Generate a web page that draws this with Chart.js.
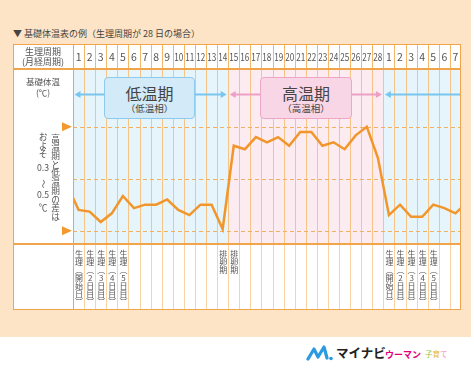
<!DOCTYPE html>
<html>
<head>
<meta charset="utf-8">
<script src="https://cdn.jsdelivr.net/npm/chart.js@4.4.1/dist/chart.umd.min.js"></script>
<style>
  body { margin: 0; background: #fff; font-family: "Noto Sans CJK JP", "Noto Sans", sans-serif; color: #4a4a4a; }
  #page { position: relative; width: 474px; height: 379px; overflow: hidden; }
  #peach { position: absolute; left: 0; top: 0; width: 471px; height: 337px; background: #fde4c6; }
  .abs { position: absolute; }
  #tableBg { position: absolute; left: 13px; top: 44px; width: 448px; height: 266px; background: #fff; }
  #chartBox { position: absolute; left: 13px; top: 69px; width: 448px; height: 175px; }
  #frame { position: absolute; left: 13px; top: 44px; width: 448px; height: 266px; box-sizing: border-box; border: 1.5px solid #f2a44b; }
  .hline { position: absolute; left: 13px; width: 448px; height: 1.5px; background: #f2a44b; }
  .vline { position: absolute; width: 1px; }
  .num { position: absolute; top: 44px; height: 25px; line-height: 25px; text-align: center; font-size: 10.5px; color: #555; }
  .num span { display: inline-block; }
  .note { position: absolute; top: 250px; width: 10px; font-size: 8px; line-height: 10px; writing-mode: vertical-rl; text-orientation: upright; color: #555; }
  .lbl { position: absolute; text-align: center; color: #555; }
  .phase { position: absolute; top: 77px; height: 42px; box-sizing: border-box; border-radius: 4px; text-align: center; color: #444; }
  .phase b { display: block; font-weight: normal; font-size: 16px; line-height: 18px; margin-top: 6px; }
  .phase i { display: block; font-style: normal; font-size: 9.5px; line-height: 12px; }
</style>
</head>
<body>
<div id="page">
  <div id="peach"></div>
  <div class="lbl" style="left:13px;top:27px;font-size:9px;line-height:13px;text-align:left;color:#444">▼ 基礎体温表の例（生理周期が 28 日の場合）</div>
  <div id="tableBg"></div>
  <div id="chartBox"><canvas id="bbtChart"></canvas></div>
  <div id="grid"></div>
  <div id="frame"></div>
  <div class="hline" style="top:68px"></div>
  <div class="hline" style="top:243px"></div>

  <div class="lbl" style="left:13px;width:60px;top:47px;font-size:9px;line-height:10px">生理周期<br>(月経周期)</div>
  <div class="lbl" style="left:13px;width:60px;top:76px;font-size:8.5px;line-height:11px">基礎体温<br>(℃)</div>
  <div class="lbl" style="left:50px;top:134px;width:11px;font-size:8.7px;line-height:11px;writing-mode:vertical-rl">高温期と低温期の差は</div>
  <div class="lbl" style="left:33px;width:20px;top:133px;font-size:8.7px;line-height:8.6px">お<br>よ<br>そ</div>
  <div class="lbl" style="left:33px;width:20px;top:163px;font-size:8.7px;line-height:10px">0.3</div>
  <div class="lbl" style="left:33px;width:20px;top:179px;font-size:8.7px;line-height:10px"><span style="display:inline-block;transform:rotate(90deg)">～</span></div>
  <div class="lbl" style="left:33px;width:20px;top:190px;font-size:8.7px;line-height:10px">0.5</div>
  <div class="lbl" style="left:33px;width:20px;top:203px;font-size:8.7px;line-height:10px">℃</div>

  <div class="phase" style="left:104px;width:91px;background:#d3ebf8;border:1.5px solid #8ccbec"><b>低温期</b><i>（低温相）</i></div>
  <div class="phase" style="left:260px;width:92px;background:#f9d6e6;border:1.5px solid #eca6c8"><b>高温期</b><i>（高温相）</i></div>

  <svg class="abs" style="left:306px;top:344px" width="28" height="18" viewBox="0 0 28 18">
    <path d="M2 15 L8 5 L12 13 L18 3 L21 14" fill="none" stroke="#2b9ae0" stroke-width="3.2" stroke-linejoin="round" stroke-linecap="round"/>
    <circle cx="25" cy="14.5" r="1.8" fill="#2b9ae0"/>
  </svg>
  <div class="lbl" style="left:336px;top:345px;font-size:12.5px;line-height:16px;font-weight:bold;color:#222;text-align:left">マイナビ</div>
  <div class="lbl" style="left:385px;top:348px;font-size:9px;line-height:13px;font-weight:bold;color:#e2007a;text-align:left">ウーマン</div>
  <div class="lbl" style="left:425px;top:348px;font-size:7.5px;line-height:12px;text-align:left"><span style="color:#8cc43f">子</span><span style="color:#e8b52c">育</span><span style="color:#ef86b3">て</span></div>
</div>

<script>
// days across the sheet: one 28-day cycle plus first week of the next
const days = ['1','2','3','4','5','6','7','8','9','10','11','12','13','14','15','16','17','18','19','20','21','22','23','24','25','26','27','28','1','2','3','4','5','6','7'];
// basal temperature (°C) per day
const temps = [36.32, 36.31, 36.25, 36.30, 36.40, 36.33, 36.35, 36.35, 36.38, 36.32, 36.29, 36.35, 36.35, 36.21,
               36.69, 36.67, 36.74, 36.71, 36.74, 36.69, 36.77, 36.77, 36.69, 36.71, 36.67, 36.75, 36.80, 36.62,
               36.29, 36.35, 36.28, 36.28, 36.35, 36.33, 36.30];
const tempBefore = 36.39;   // line comes in from the previous day
const tempAfter = 36.33;    // and leaves towards the next one
const guideTemps = [36.2, 36.5, 36.8];
const markerTemps = [36.8, 36.2];
// phases: first column, end column, colours
const phaseFrom = [0, 14, 28];
const phaseTo = [14, 28, 35];
const phaseColors = ['#e6f4fc', '#fdebf2', '#e6f4fc'];
const arrowColors = ['#78c6ee', '#eda0c6', '#78c6ee'];
const notes = ['生理（開始日）','生理（2日目）','生理（3日目）','生理（4日目）','生理（5日目）','','','','','','','','','排卵期',
               '排卵期','','','','','','','','','','','','','',
               '生理（開始日）','生理（2日目）','生理（3日目）','生理（4日目）','生理（5日目）','',''];

const colW = 388 / days.length;
const page = document.getElementById('page');
const grid = document.getElementById('grid');

days.forEach((d, i) => {
    const x = 73 + i * colW;
    const n = document.createElement('div');
    n.className = 'num';
    n.style.left = x + 'px';
    n.style.width = colW + 'px';
    n.innerHTML = d.length > 1 ? '<span style="transform:scaleX(0.78)">' + d + '</span>' : d;
    page.appendChild(n);

    const lx = Math.round(x);
    // header separators
    const h = document.createElement('div');
    h.className = 'vline';
    h.style.cssText = 'left:' + lx + 'px;top:44px;height:25px;background:' + (i === 0 ? '#f2a44b' : '#f4b868');
    grid.appendChild(h);
    // bottom row separators
    const b = document.createElement('div');
    b.className = 'vline';
    b.style.cssText = 'left:' + lx + 'px;top:244px;height:66px;background:' + (i === 0 ? '#f2a44b' : '#f7d3a6');
    grid.appendChild(b);

    if (notes[i]) {
        const t = document.createElement('div');
        t.className = 'note';
        t.style.left = (x + colW / 2 - 5) + 'px';
        t.textContent = notes[i];
        page.appendChild(t);
    }
});
// left column boundary through the chart row
const lb = document.createElement('div');
lb.className = 'vline';
lb.style.cssText = 'left:72.5px;top:69px;height:175px;width:1.5px;background:#f2a44b';
grid.appendChild(lb);

const points = [{x: 0, y: tempBefore}];
temps.forEach((t, i) => points.push({x: i + 0.5, y: t}));
points.push({x: days.length, y: tempAfter});

const sheetPlugin = {
    id: 'sheet',
    beforeDatasetsDraw(chart) {
        const {ctx, chartArea, scales: {x, y}} = chart;
        ctx.save();
        // phase bands
        phaseFrom.forEach((f, i) => {
            const x1 = x.getPixelForValue(f), x2 = x.getPixelForValue(phaseTo[i]);
            ctx.fillStyle = phaseColors[i];
            ctx.fillRect(x1, chartArea.top, x2 - x1, chartArea.bottom - chartArea.top);
        });
        // day columns
        ctx.strokeStyle = '#f6c487';
        ctx.lineWidth = 1;
        for (let d = 1; d < days.length; d++) {
            const px = Math.round(x.getPixelForValue(d)) + 0.5;
            ctx.beginPath();
            ctx.moveTo(px, chartArea.top);
            ctx.lineTo(px, chartArea.bottom);
            ctx.stroke();
        }
        // dashed guides
        ctx.strokeStyle = '#f2b062';
        ctx.setLineDash([4, 3]);
        guideTemps.forEach(t => {
            const py = Math.round(y.getPixelForValue(t)) + 0.5;
            ctx.beginPath();
            ctx.moveTo(chartArea.left, py);
            ctx.lineTo(chartArea.right, py);
            ctx.stroke();
        });
        ctx.setLineDash([]);
        // markers on the left
        ctx.fillStyle = '#f39a2e';
        markerTemps.forEach(t => {
            const py = y.getPixelForValue(t);
            ctx.beginPath();
            ctx.moveTo(chartArea.left - 11, py - 4.5);
            ctx.lineTo(chartArea.left - 1, py);
            ctx.lineTo(chartArea.left - 11, py + 4.5);
            ctx.closePath();
            ctx.fill();
        });
        // phase arrows
        const ay = chartArea.top + 25.5;
        phaseFrom.forEach((f, i) => {
            const x1 = x.getPixelForValue(f) + 1.5;
            const x2 = i === 2 ? chartArea.right : x.getPixelForValue(phaseTo[i]) - 1.5;
            ctx.strokeStyle = arrowColors[i];
            ctx.fillStyle = arrowColors[i];
            ctx.lineWidth = 2;
            ctx.beginPath();
            ctx.moveTo(x1 + 4, ay);
            ctx.lineTo(i === 2 ? x2 : x2 - 4, ay);
            ctx.stroke();
            ctx.beginPath();
            ctx.moveTo(x1, ay);
            ctx.lineTo(x1 + 6, ay - 3.5);
            ctx.lineTo(x1 + 6, ay + 3.5);
            ctx.fill();
            if (i !== 2) {
                ctx.beginPath();
                ctx.moveTo(x2, ay);
                ctx.lineTo(x2 - 6, ay - 3.5);
                ctx.lineTo(x2 - 6, ay + 3.5);
                ctx.fill();
            }
        });
        ctx.restore();
    }
};

new Chart(document.getElementById('bbtChart'), {
    type: 'line',
    data: {
        datasets: [{
            data: points,
            borderColor: '#f0962b',
            borderWidth: 2.5,
            pointRadius: 0,
            tension: 0
        }]
    },
    options: {
        responsive: true,
        maintainAspectRatio: false,
        animation: false,
        layout: {padding: {left: 60, right: 0, top: 0, bottom: 0}},
        plugins: {legend: {display: false}, tooltip: {enabled: false}},
        scales: {
            x: {type: 'linear', min: 0, max: days.length, display: false},
            y: {min: 36.123, max: 37.133, display: false}
        }
    },
    plugins: [sheetPlugin]
});
</script>
</body>
</html>
